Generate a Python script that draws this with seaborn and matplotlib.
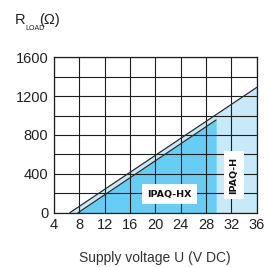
import matplotlib
matplotlib.use('Agg')
import matplotlib.pyplot as plt
import seaborn as sns
import numpy as np

# Kennlinien (Spannung in V DC, Bürde in Ohm)
voltage_h = [6.5, 36]
rload_h = [0, 1290]
voltage_hx = [7.8, 29.6]
rload_hx = [0, 955]

x_ticks = [4, 8, 12, 16, 20, 24, 28, 32, 36]
y_ticks = [0, 400, 800, 1200, 1600]

light_blue = '#c8eaf8'
dark_blue = '#66cdf5'
line_col = '#2a2a2a'

sns.set_theme(style="white")
plt.rcParams['font.family'] = ['Liberation Sans', 'DejaVu Sans']

fig = plt.figure(figsize=(2.65, 2.67), dpi=100)
ax = fig.add_axes([0.2038, 0.2034, 0.765, 0.582])

# Flächen
ax.fill_between(voltage_h, rload_h, 0, color=light_blue, lw=0, zorder=1)
ax.fill_between(voltage_hx, rload_hx, 0, color=dark_blue, lw=0, zorder=2)

# Linien
sns.lineplot(x=voltage_h, y=rload_h, ax=ax, color=line_col, lw=0.9, zorder=3)
sns.lineplot(x=voltage_hx, y=rload_hx, ax=ax, color=line_col, lw=0.9, zorder=3)

ax.set_xlim(4, 36)
ax.set_ylim(0, 1600)
ax.set_xticks(x_ticks)
ax.set_yticks(y_ticks)
ax.set_yticks(np.arange(0, 1601, 200), minor=True)
ax.tick_params(length=0, labelsize=10.5, colors='#222222', pad=4)
ax.grid(True, which='both', color='#1e1e1e', lw=0.8, zorder=4)
ax.set_axisbelow(False)
for s in ax.spines.values():
    s.set_color('#1e1e1e')
    s.set_linewidth(0.9)
    s.set_zorder(5)

# Beschriftungen der Bereiche
box = dict(boxstyle='square,pad=0.55', fc='white', ec='none')
ax.text(22.2, 192, 'IPAQ-HX', fontsize=6.8, fontweight='bold', color='#111111',
        ha='center', va='center', bbox=box, zorder=6, family='DejaVu Sans')
ax.text(32.4, 388, 'IPAQ-H', fontsize=6.8, fontweight='bold', color='#111111',
        ha='center', va='center', rotation=90, bbox=box, zorder=6, family='DejaVu Sans')

ax.set_xlabel('')
ax.set_ylabel('')
# Achsentitel R_LOAD(Ω) aus drei Teilen
fig.text(15 / 265, 1 - 24 / 267, 'R', fontsize=10.5, color='#222222', ha='left', va='baseline')
fig.text(25 / 265, 1 - 30.5 / 267, 'LOAD', fontsize=5, color='#222222', ha='left', va='baseline')
fig.text(39 / 265, 1 - 24 / 267, '(Ω)', fontsize=10.5, color='#222222', ha='left', va='baseline')
fig.text(0.585, 0.035, 'Supply voltage U (V DC)', fontsize=10, color='#333333',
         ha='center', va='center')

plt.savefig('out.png', dpi=100)
plt.close()
